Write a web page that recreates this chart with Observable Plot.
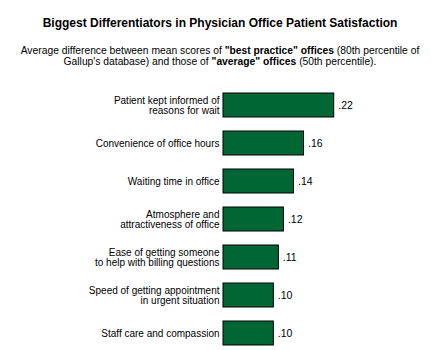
<!DOCTYPE html>
<html>
<head>
<meta charset="utf-8">
<script src="https://cdn.jsdelivr.net/npm/d3@7"></script>
<script src="https://cdn.jsdelivr.net/npm/@observablehq/plot@0.6"></script>
<style>
  html, body { margin: 0; padding: 0; background: #fff; }
  body { width: 440px; height: 350px; position: relative; overflow: hidden; font-family: Arial, "Liberation Sans", sans-serif; color: #000; }
  #title { position: absolute; left: 0; top: 15px; width: 440px; text-align: center; font-weight: bold; font-size: 12px; line-height: 16px; }
  #subtitle { position: absolute; left: 0; top: 45px; width: 440px; text-align: center; font-size: 10.3px; line-height: 11px; }
  #chart { position: absolute; left: 0; top: 80px; }
</style>
</head>
<body>
<div id="title">Biggest Differentiators in Physician Office Patient Satisfaction</div>
<div id="subtitle">Average difference between mean scores of <b>"best practice" offices</b> (80th percentile of<br>Gallup's database) and those of <b>"average" offices</b> (50th percentile).</div>
<div id="chart"></div>
<script>
const categories = [
  "Patient kept informed of\nreasons for wait",
  "Convenience of office hours",
  "Waiting time in office",
  "Atmosphere and\nattractiveness of office",
  "Ease of getting someone\nto help with billing questions",
  "Speed of getting appointment\nin urgent situation",
  "Staff care and compassion"
];
const values = [0.22, 0.16, 0.14, 0.12, 0.11, 0.10, 0.10];
const valueLabels = [".22", ".16", ".14", ".12", ".11", ".10", ".10"];

const data = categories.map((c, i) => ({category: c, value: values[i], label: valueLabels[i]}));

const chart = Plot.plot({
  width: 440,
  height: 274,
  marginLeft: 223,
  marginRight: 66,
  marginTop: 4,
  marginBottom: 0,
  style: {fontFamily: "Arial, 'Liberation Sans', sans-serif", background: "#fff"},
  x: {domain: [0, 0.3], axis: null},
  y: {domain: categories, padding: 0.36, paddingOuter: 0.18, axis: null},
  marks: [
    Plot.barX(data, {x: "value", y: "category", fill: "#006633", stroke: "#000", strokeWidth: 1}),
    Plot.ruleX([0], {y1: 0, y2: 300, stroke: "#000", strokeWidth: 1}),
    Plot.text(data, {x: 0, y: "category", text: "category", textAnchor: "end", dx: -4, fontSize: 10, lineHeight: 1.07, fill: "#000"}),
    Plot.text(data, {x: "value", y: "category", text: "label", textAnchor: "start", dx: 4, fontSize: 10.5, fill: "#000"})
  ]
});
document.getElementById("chart").appendChild(chart);
</script>
</body>
</html>
